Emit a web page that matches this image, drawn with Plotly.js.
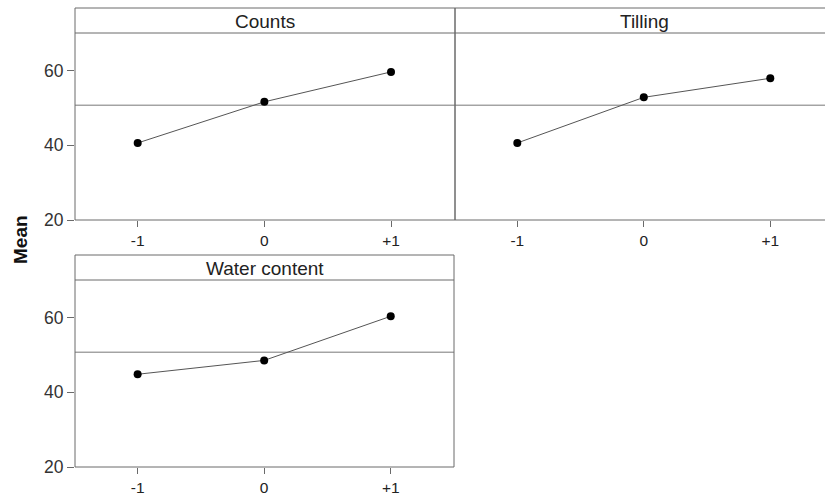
<!DOCTYPE html>
<html>
<head>
<meta charset="utf-8">
<script src="https://cdn.plot.ly/plotly-3.0.1.min.js"></script>
<style>html,body{margin:0;padding:0;background:#fff}#chart{width:825px;height:495px}</style>
</head>
<body>
<div id="chart"></div>
<script>
// ---- data ----
const levels = [-1, 0, 1];
const levelLabels = ['-1', '0', '+1'];
const panelNames = ['Counts', 'Tilling', 'Water content'];
const countsMean = [40.6, 51.6, 59.6];
const tillingMean = [40.6, 52.8, 57.9];
const waterMean = [44.8, 48.5, 60.3];
const grandMean = 50.7;
const yTicks = [20, 40, 60];

const W = 825, H = 495;
const px = v => v / W;
const py = v => (H - v) / H;

const frameColor = '#6a6a6a';
const lineColor = '#555555';

const series = [countsMean, tillingMean, waterMean];
const axSuffix = ['', '2', '3'];

const traces = series.map((vals, i) => ({
  x: levels, y: vals, type: 'scatter', mode: 'lines+markers',
  xaxis: 'x' + axSuffix[i], yaxis: 'y' + axSuffix[i],
  line: {color: lineColor, width: 1},
  marker: {color: '#000', size: 8},
  hoverinfo: 'x+y', showlegend: false
}));

// panel geometry (pixels)
const panels = [
  {x0: 75, x1: 455, top: 33, bottom: 220, stripTop: 8, xr: [-1.495, 1.505], right: true},
  {x0: 455, x1: 825, top: 33, bottom: 220, stripTop: 8, xr: [-1.4925, 1.4325], right: false},
  {x0: 75, x1: 454, top: 280, bottom: 467, stripTop: 255, xr: [-1.495, 1.50], right: true}
];

const fam = 'Liberation Sans, Arial, sans-serif';
const tickFont = {family: fam, size: 17.5, color: '#333'};
const xTickFont = {family: fam, size: 15.5, color: '#222'};

const layout = {
  width: W, height: H,
  margin: {l: 0, r: 0, t: 0, b: 0},
  paper_bgcolor: '#fff', plot_bgcolor: '#fff',
  showlegend: false,
  shapes: [], annotations: []
};

panels.forEach((p, i) => {
  const s = axSuffix[i];
  layout['xaxis' + s] = {
    domain: [px(p.x0), px(p.x1)], range: p.xr, anchor: 'y' + s,
    tickvals: levels, ticktext: levelLabels, ticks: 'outside', ticklen: 6,
    tickcolor: frameColor, tickwidth: 1, tickfont: xTickFont,
    showgrid: false, zeroline: false, showline: false, fixedrange: true
  };
  layout['yaxis' + s] = {
    domain: [py(p.bottom), py(p.top)], range: [20, 70], anchor: 'x' + s,
    tickvals: yTicks, ticks: i === 1 ? '' : 'outside', ticklen: 7,
    showticklabels: i !== 1,
    tickcolor: frameColor, tickwidth: 1, tickfont: tickFont,
    showgrid: false, zeroline: false, showline: false, fixedrange: true
  };
  const L = {color: frameColor, width: 1};
  // frame lines
  layout.shapes.push({type: 'line', xref: 'paper', yref: 'paper', x0: px(p.x0), x1: px(p.x1), y0: py(p.bottom), y1: py(p.bottom), line: L});
  layout.shapes.push({type: 'line', xref: 'paper', yref: 'paper', x0: px(p.x0), x1: px(p.x1), y0: py(p.top), y1: py(p.top), line: L});
  layout.shapes.push({type: 'line', xref: 'paper', yref: 'paper', x0: px(p.x0), x1: px(p.x1), y0: py(p.stripTop), y1: py(p.stripTop), line: L});
  layout.shapes.push({type: 'line', xref: 'paper', yref: 'paper', x0: px(p.x0), x1: px(p.x0), y0: py(p.bottom), y1: py(p.stripTop), line: L});
  if (p.right) {
    layout.shapes.push({type: 'line', xref: 'paper', yref: 'paper', x0: px(p.x1), x1: px(p.x1), y0: py(p.bottom), y1: py(p.stripTop), line: L});
  }
  // grand mean reference line
  layout.shapes.push({type: 'line', xref: 'x' + s + ' domain', yref: 'y' + s, x0: 0, x1: 1, y0: grandMean, y1: grandMean, line: {color: '#777', width: 1}, layer: 'below'});
  // strip title
  layout.annotations.push({
    text: panelNames[i], xref: 'paper', yref: 'paper',
    x: px((p.x0 + (i === 1 ? 455 + 378 : p.x1)) / 2), y: py((p.stripTop + p.top) / 2 + 1),
    xanchor: 'center', yanchor: 'middle', showarrow: false,
    font: {family: fam, size: 19, color: '#222'}
  });
});

layout.annotations.push({
  text: '<b>Mean</b>', xref: 'paper', yref: 'paper', x: px(20), y: py(240),
  xanchor: 'center', yanchor: 'middle', textangle: -90, showarrow: false,
  font: {family: fam, size: 19, color: '#111'}
});

Plotly.newPlot('chart', traces, layout, {displayModeBar: false, staticPlot: true});
</script>
</body>
</html>
